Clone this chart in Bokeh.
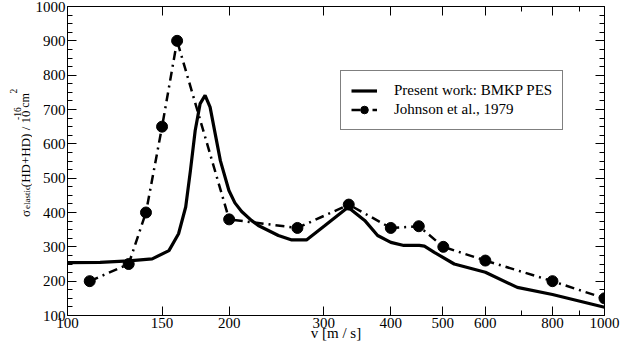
import math
from bokeh.plotting import figure
from bokeh.layouts import row
from bokeh.models import (LogAxis, LinearAxis, FixedTicker, SingleIntervalTicker,
                          Legend, LegendItem, Label, NumeralTickFormatter,
                          CustomJSTickFormatter)
from bokeh.embed import file_html
from bokeh.resources import INLINE

# ---------------- data ----------------
present_v = [100, 115, 130, 143.8, 154.5, 161, 166, 169.4, 172.9, 176.6, 180.4, 184.3,
             188.4, 192.6, 199.8, 205, 211, 220, 226.6, 247, 261.6, 278.6, 301.6, 333,
             357.6, 378, 400, 423, 452, 462, 482, 525, 600, 688, 800, 1000]
present_sigma = [254, 255, 259, 265, 289, 338, 416, 522, 639, 717, 741, 707,
                 629, 551, 464, 428, 403, 377, 362, 333, 320, 320, 362, 415,
                 377, 333, 313, 304, 304, 302, 284, 250, 226, 182, 161, 124]

johnson_v = [110, 130, 140, 150, 160, 200, 268, 334, 400, 451, 501, 600, 800, 1000]
johnson_sigma = [200, 250, 400, 650, 900, 380, 355, 423, 355, 360, 300, 260, 200, 150]

x_ticks = [100, 150, 200, 300, 400, 500, 600, 800, 1000]
x_minor_ticks = [700, 900]

legend_labels = ["Present work: BMKP PES", "Johnson et al., 1979"]
x_label = "v [m / s]"
# y title pieces: text, font size
y_title_parts = [("\u03c3", "13px"), ("elastic", "9px"), ("(HD+HD) / 10", "13px"),
                 ("-16", "9.5px"), ("cm", "12px"), ("2", "9.5px")]

FONT = "Liberation Serif"

# ---------------- layout (pixels) ----------------
W, H = 621, 345
TITLE_W = 32
F_LEFT, F_RIGHT, F_TOP, F_BOTTOM = 65, 604, 6, 315

# ---------------- y title strip ----------------
t = figure(width=TITLE_W, height=H, x_range=(0, TITLE_W), y_range=(H, 0),
           output_backend="svg", toolbar_location=None,
           x_axis_location=None, y_axis_location=None, min_border=0)
t.grid.visible = False
t.outline_line_color = None
t.background_fill_color = "white"
t.border_fill_color = "white"

# baseline x and start y (page pixels) of each piece
title_pos = [(24.5, 235), (26.5, 226), (24.5, 201.7), (17, 126.7), (24.5, 113), (12.5, 97)]
for (txt, fs), (px, py) in zip(y_title_parts, title_pos):
    t.add_layout(Label(x=px, y=py, text=txt, angle=math.pi / 2,
                       text_align="left", text_baseline="alphabetic",
                       text_font=FONT, text_font_size=fs, text_color="black"))

# ---------------- main figure ----------------
p = figure(width=W - TITLE_W, height=H, x_axis_type="log",
           x_range=(100, 1000), y_range=(100, 1000),
           output_backend="svg", toolbar_location=None,
           min_border_left=F_LEFT - TITLE_W, min_border_right=W - F_RIGHT,
           min_border_top=F_TOP, min_border_bottom=H - F_BOTTOM)
p.xgrid.visible = False
p.ygrid.visible = False
p.outline_line_color = None
p.background_fill_color = "white"
p.border_fill_color = "white"

xt = FixedTicker(ticks=x_ticks, minor_ticks=x_minor_ticks)
yt = SingleIntervalTicker(interval=100, num_minor_ticks=4)

bottom_axis = p.below[0]
left_axis = p.left[0]
top_axis = LogAxis(ticker=xt)
right_axis = LinearAxis(ticker=yt)
p.add_layout(top_axis, "above")
p.add_layout(right_axis, "right")

bottom_axis.ticker = xt
bottom_axis.formatter = NumeralTickFormatter(format="0")
left_axis.ticker = yt
left_axis.formatter = NumeralTickFormatter(format="0")

for ax in [bottom_axis, left_axis, top_axis, right_axis]:
    ax.axis_line_color = "black"
    ax.axis_line_width = 1
    ax.major_tick_line_color = "black"
    ax.minor_tick_line_color = "black"
    ax.major_tick_in = 9
    ax.major_tick_out = 0
    ax.minor_tick_in = 5
    ax.minor_tick_out = 0
    ax.major_label_text_font = FONT
    ax.major_label_text_font_size = "15px"
    ax.major_label_text_color = "black"
    ax.major_label_text_font_style = "normal"
    ax.major_label_standoff = 3

left_axis.major_label_standoff = 2
bottom_axis.major_label_standoff = 2
bottom_axis.axis_label = x_label
bottom_axis.axis_label_text_font = FONT
bottom_axis.axis_label_text_font_size = "15px"
bottom_axis.axis_label_text_font_style = "normal"
bottom_axis.axis_label_text_color = "black"
bottom_axis.axis_label_standoff = -6

for ax in [top_axis, right_axis]:
    ax.formatter = CustomJSTickFormatter(code="return ''")
    ax.major_label_standoff = 0

# ---------------- series ----------------
r_present = p.line(present_v, present_sigma, line_color="black", line_width=3.2)
r_jl = p.line(johnson_v, johnson_sigma, line_color="black", line_width=2.5,
              line_dash="9 5 2 5")
r_jp = p.scatter(johnson_v, johnson_sigma, marker="circle", size=11,
                 fill_color="black", line_color="black")

legend = Legend(items=[LegendItem(label=legend_labels[0], renderers=[r_present]),
                       LegendItem(label=legend_labels[1], renderers=[r_jl, r_jp])],
                location=(338 - F_LEFT, F_BOTTOM - 130), orientation="vertical",
                padding=10, spacing=0, margin=0,
                glyph_width=26, glyph_height=19, label_height=19,
                label_standoff=17,
                label_text_font=FONT, label_text_font_size="15px",
                label_text_color="black",
                border_line_color="black", border_line_width=1,
                background_fill_alpha=1.0)
p.add_layout(legend)

layout = row(t, p, spacing=0)
open("out.html", "w").write(file_html(layout, INLINE))
